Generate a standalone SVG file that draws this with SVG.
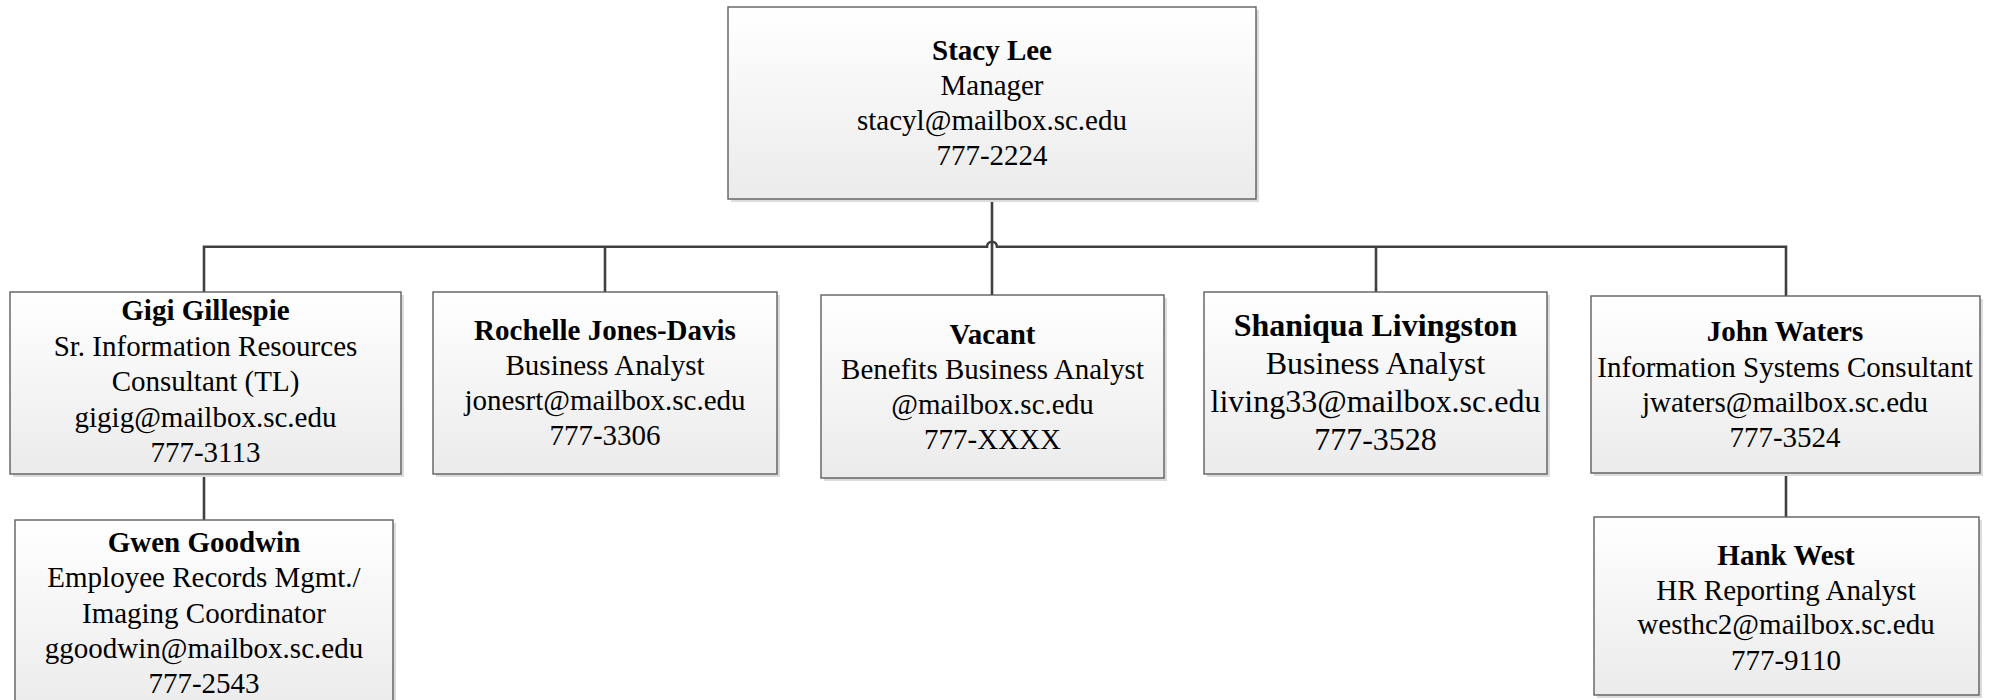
<svg xmlns="http://www.w3.org/2000/svg" width="1990" height="700" viewBox="0 0 1990 700">
<defs>
<linearGradient id="g" x1="0" y1="0" x2="0" y2="1">
<stop offset="0" stop-color="#ffffff"/>
<stop offset="1" stop-color="#ebebeb"/>
</linearGradient>
</defs>
<style>
.box{fill:url(#g);stroke:#5f5f5f;stroke-width:1.4}
.sh{fill:#dcdcdc}
.c{fill:none;stroke:#404040;stroke-width:2.6}
text{font-family:"Liberation Serif","Times New Roman",serif;font-size:29px;fill:#000;text-anchor:middle}
.b{font-weight:bold}
.big{font-size:32px}
</style>
<rect width="1990" height="700" fill="#ffffff"/>
<g id="connectors">
<path class="c" d="M992 199V295"/>
<path class="c" d="M204 292V246.7H987A5 5 0 0 1 997 246.7H1786V296"/>
<path class="c" d="M605 246.7V292"/>
<path class="c" d="M1376 246.7V292"/>
<path class="c" d="M204 474V520"/>
<path class="c" d="M1786 473V517"/>
</g>
<g id="stacy">
<rect class="sh" x="731" y="10" width="528" height="192"/>
<rect class="box" x="728" y="7" width="528" height="192"/>
<text x="992" y="60" class="b">Stacy Lee</text>
<text x="992" y="95">Manager</text>
<text x="992" y="130">stacyl@mailbox.sc.edu</text>
<text x="992" y="165">777-2224</text>
</g>
<g id="gigi">
<rect class="sh" x="13" y="295" width="391" height="182"/>
<rect class="box" x="10" y="292" width="391" height="182"/>
<text x="205.5" y="320" class="b">Gigi Gillespie</text>
<text x="205.5" y="355.5">Sr. Information Resources</text>
<text x="205.5" y="391">Consultant (TL)</text>
<text x="205.5" y="426.5">gigig@mailbox.sc.edu</text>
<text x="205.5" y="462">777-3113</text>
</g>
<g id="rochelle">
<rect class="sh" x="436" y="295" width="344" height="182"/>
<rect class="box" x="433" y="292" width="344" height="182"/>
<text x="605" y="340" class="b">Rochelle Jones-Davis</text>
<text x="605" y="375">Business Analyst</text>
<text x="605" y="410">jonesrt@mailbox.sc.edu</text>
<text x="605" y="445">777-3306</text>
</g>
<g id="vacant">
<rect class="sh" x="824" y="298" width="343" height="183"/>
<rect class="box" x="821" y="295" width="343" height="183"/>
<text x="992.5" y="344" class="b">Vacant</text>
<text x="992.5" y="379">Benefits Business Analyst</text>
<text x="992.5" y="414">@mailbox.sc.edu</text>
<text x="992.5" y="449">777-XXXX</text>
</g>
<g id="shaniqua">
<rect class="sh" x="1207" y="295" width="343" height="182"/>
<rect class="box" x="1204" y="292" width="343" height="182"/>
<text x="1375.5" y="336" class="b big">Shaniqua Livingston</text>
<text x="1375.5" y="374" class="big">Business Analyst</text>
<text x="1375.5" y="412" class="big">living33@mailbox.sc.edu</text>
<text x="1375.5" y="450" class="big">777-3528</text>
</g>
<g id="john">
<rect class="sh" x="1594" y="299" width="389" height="177"/>
<rect class="box" x="1591" y="296" width="389" height="177"/>
<text x="1785" y="341" class="b">John Waters</text>
<text x="1785" y="377">Information Systems Consultant</text>
<text x="1785" y="412">jwaters@mailbox.sc.edu</text>
<text x="1785" y="447">777-3524</text>
</g>
<g id="gwen">
<rect class="sh" x="18" y="523" width="378" height="190"/>
<rect class="box" x="15" y="520" width="378" height="190"/>
<text x="204" y="552" class="b">Gwen Goodwin</text>
<text x="204" y="587">Employee Records Mgmt./</text>
<text x="204" y="623">Imaging Coordinator</text>
<text x="204" y="658">ggoodwin@mailbox.sc.edu</text>
<text x="204" y="693">777-2543</text>
</g>
<g id="hank">
<rect class="sh" x="1597" y="520" width="385" height="178"/>
<rect class="box" x="1594" y="517" width="385" height="178"/>
<text x="1786" y="565" class="b">Hank West</text>
<text x="1786" y="600">HR Reporting Analyst</text>
<text x="1786" y="634">westhc2@mailbox.sc.edu</text>
<text x="1786" y="670">777-9110</text>
</g>
</svg>
